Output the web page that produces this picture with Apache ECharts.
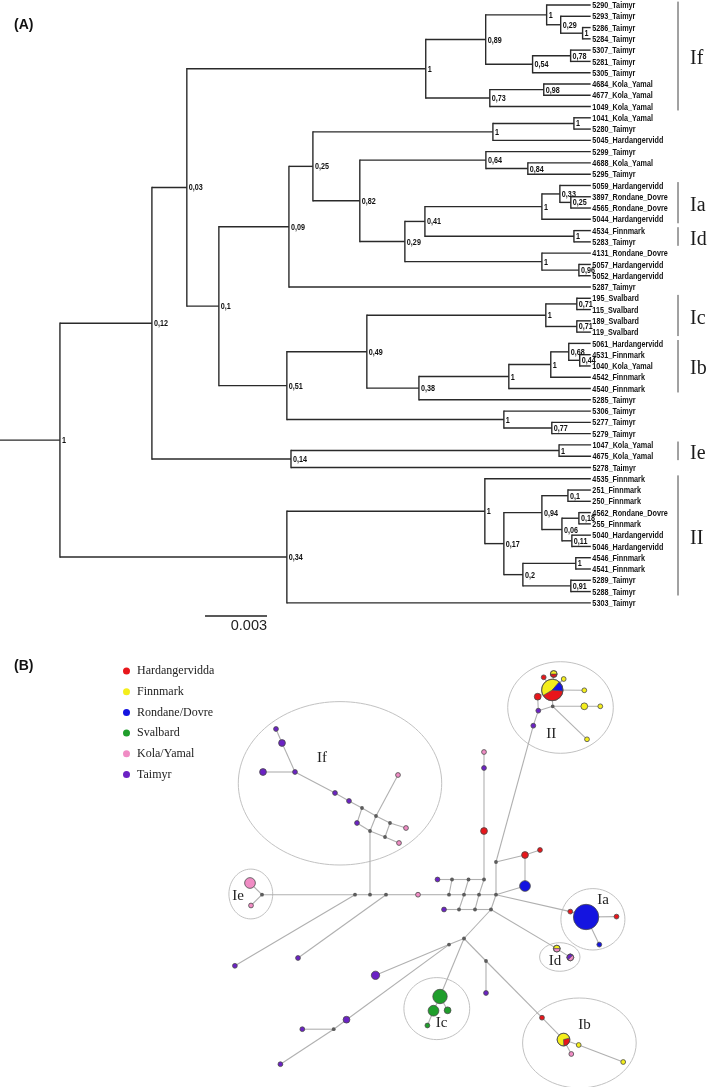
<!DOCTYPE html>
<html><head><meta charset="utf-8">
<script src="https://cdn.jsdelivr.net/npm/echarts@6/dist/echarts.min.js"></script>
<style>html,body{margin:0;padding:0;background:#fff}#c{width:709px;height:1087px}</style>
</head><body><div id="c"></div>
<script>
// ===== (A) Bayesian tree: [support or tip label, branch length (x1e-3 subst./site), children]
const cladeIf = ['1', 11.56, [
  ['0,89', 2.90, [
    ['1', 2.95, [
      ['5290_Taimyr', 2.13],
      ['0,29', 0.68, [
        ['5293_Taimyr', 1.45],
        ['1', 1.06, [['5286_Taimyr', 0.39], ['5284_Taimyr', 0.39]]]
      ]]
    ]],
    ['0,54', 2.27, [
      ['0,78', 1.84, [['5307_Taimyr', 0.97], ['5281_Taimyr', 0.97]]],
      ['5305_Taimyr', 2.81]
    ]]
  ]],
  ['0,73', 3.10, [
    ['0,98', 2.61, [['4684_Kola_Yamal', 2.27], ['4677_Kola_Yamal', 2.27]]],
    ['1049_Kola_Yamal', 4.89]
  ]]
]];
const clade01 = ['0,1', 1.55, [
  ['0,09', 3.39, [
    ['0,25', 1.16, [
      ['1', 8.71, [
        ['1', 3.92, [['1041_Kola_Yamal', 0.82], ['5280_Taimyr', 0.82]]],
        ['5045_Hardangervidd', 4.74]
      ]],
      ['0,82', 2.27, [
        ['0,64', 6.10, [
          ['5299_Taimyr', 5.08],
          ['0,84', 2.03, [['4688_Kola_Yamal', 3.05], ['5295_Taimyr', 3.05]]]
        ]],
        ['0,29', 2.18, [
          ['0,41', 0.97, [
            ['1', 5.66, [
              ['0,33', 0.87, [
                ['5059_Hardangervidd', 1.50],
                ['0,25', 0.53, [['3897_Rondane_Dovre', 0.97], ['4565_Rondane_Dovre', 0.97]]]
              ]],
              ['5044_Hardangervidd', 2.37]
            ]],
            ['1', 7.21, [['4534_Finnmark', 0.82], ['5283_Taimyr', 0.82]]]
          ]],
          ['1', 6.63, [
            ['4131_Rondane_Dovre', 2.37],
            ['0,96', 1.79, [['5057_Hardangervidd', 0.58], ['5052_Hardangervidd', 0.58]]]
          ]]
        ]]
      ]]
    ]],
    ['5287_Taimyr', 14.61]
  ]],
  ['0,51', 3.29, [
    ['0,49', 3.87, [
      ['1', 8.66, [
        ['0,71', 1.50, [['195_Svalbard', 0.68], ['115_Svalbard', 0.68]]],
        ['0,71', 1.50, [['189_Svalbard', 0.68], ['119_Svalbard', 0.68]]]
      ]],
      ['0,38', 2.52, [
        ['1', 4.35, [
          ['1', 2.03, [
            ['0,68', 0.87, [
              ['5061_Hardangervidd', 1.06],
              ['0,44', 0.53, [['4531_Finnmark', 0.53], ['1040_Kola_Yamal', 0.53]]]
            ]],
            ['4542_Finnmark', 1.94]
          ]],
          ['4540_Finnmark', 3.97]
        ]],
        ['5285_Taimyr', 8.32]
      ]]
    ]],
    ['1', 10.50, [
      ['5306_Taimyr', 4.21],
      ['0,77', 2.32, [['5277_Taimyr', 1.89], ['5279_Taimyr', 1.89]]]
    ]]
  ]]
]];
const cladeIe = ['0,14', 6.73, [
  ['1', 12.97, [['1047_Kola_Yamal', 1.55], ['4675_Kola_Yamal', 1.55]]],
  ['5278_Taimyr', 14.52]
]];
const cladeII = ['0,34', 10.98, [
  ['1', 9.58, [
    ['4535_Finnmark', 5.13],
    ['0,17', 0.92, [
      ['0,94', 1.84, [
        ['0,1', 1.26, [['251_Finnmark', 1.11], ['250_Finnmark', 1.11]]],
        ['0,06', 0.97, [
          ['0,18', 0.82, [['4562_Rondane_Dovre', 0.58], ['255_Finnmark', 0.58]]],
          ['0,11', 0.48, [['5040_Hardangervidd', 0.92], ['5046_Hardangervidd', 0.92]]]
        ]]
      ]],
      ['0,2', 0.92, [
        ['1', 2.56, [['4546_Finnmark', 0.73], ['4541_Finnmark', 0.73]]],
        ['0,91', 2.32, [['5289_Taimyr', 0.97], ['5288_Taimyr', 0.97]]]
      ]]
    ]]
  ]],
  ['5303_Taimyr', 14.71]
]];
const treeRoot = ['1', 2.90, [['0,12', 4.45, [['0,03', 1.69, [cladeIf, clade01]], cladeIe]], cladeII]];
const branchUnit = 1e-3;
const scaleBarValue = 0.003;
const cladeNames = ['If', 'Ia', 'Id', 'Ic', 'Ib', 'Ie', 'II'];
const cladeFirstTip = ['5290_Taimyr', '5059_Hardangervidd', '4534_Finnmark', '195_Svalbard', '5061_Hardangervidd', '1047_Kola_Yamal', '4535_Finnmark'];
const cladeLastTip = ['1049_Kola_Yamal', '5044_Hardangervidd', '5283_Taimyr', '119_Svalbard', '4540_Finnmark', '4675_Kola_Yamal', '5288_Taimyr'];

// ===== (B) haplotype network
const regions = ['Hardangervidda', 'Finnmark', 'Rondane/Dovre', 'Svalbard', 'Kola/Yamal', 'Taimyr'];
const regionColors = ['#e8161b', '#f4ee1c', '#1414e0', '#1f9e2b', '#f08cc4', '#6b22c4'];
const nodeX = [276,282,263,295,335,349,362,376,390,406,357,370,385,399,398,
  250,251,262,355,370,386,418,449,464,479,496,
  437.5,452,468.5,484, 444,459,475,491,
  484,484,484,496,525,540,525,
  570.3,586.1,616.5,599.3, 556.8,570.3,
  464,449,375.5,346.5,333.7,302.3,280.4,
  440,433.5,447.6,427.4,
  486,486,542,563.5,578.7,571.3,623.2,
  234.9,298,
  552.3,537.7,543.7,553.7,563.7,584.3,552.7,584.3,600.3,587,538.3,533.3];
const nodeY = [729,743,772,772,793,801,808,816,823,828,823,831,837,843,775,
  883,905.5,894.7,894.7,894.7,894.7,894.7,894.7,894.7,894.7,894.7,
  879.5,879.5,879.5,879.5, 909.5,909.5,909.5,909.5,
  752,768,831,862,855,850,886,
  911.6,917,916.6,944.6, 948.6,957.4,
  938.5,944.6,975.3,1019.7,1029.2,1029.2,1064.2,
  996.5,1010.7,1010.3,1025.5,
  961,993,1017.7,1039.6,1045,1054,1062,
  965.8,958,
  690,696.7,677.3,674,679,690.3,706.3,706.3,706.3,739.3,710.7,725.7];
// sample counts per node: [Hardangervidda, Finnmark, Rondane/Dovre, Svalbard, Kola/Yamal, Taimyr]; all zero = median vector
const nodeCounts = [
  [0,0,0,0,0,1],[0,0,0,0,0,2],[0,0,0,0,0,2],[0,0,0,0,0,1],[0,0,0,0,0,1],[0,0,0,0,0,1],
  [0,0,0,0,0,0],[0,0,0,0,0,0],[0,0,0,0,0,0],[0,0,0,0,1,0],[0,0,0,0,0,1],[0,0,0,0,0,0],
  [0,0,0,0,0,0],[0,0,0,0,1,0],[0,0,0,0,1,0],
  [0,0,0,0,5,0],[0,0,0,0,1,0],[0,0,0,0,0,0],[0,0,0,0,0,0],[0,0,0,0,0,0],[0,0,0,0,0,0],
  [0,0,0,0,1,0],[0,0,0,0,0,0],[0,0,0,0,0,0],[0,0,0,0,0,0],[0,0,0,0,0,0],
  [0,0,0,0,0,1],[0,0,0,0,0,0],[0,0,0,0,0,0],[0,0,0,0,0,0],
  [0,0,0,0,0,1],[0,0,0,0,0,0],[0,0,0,0,0,0],[0,0,0,0,0,0],
  [0,0,0,0,1,0],[0,0,0,0,0,1],[2,0,0,0,0,0],[0,0,0,0,0,0],[2,0,0,0,0,0],[1,0,0,0,0,0],[0,0,5,0,0,0],
  [1,0,0,0,0,0],[0,0,28,0,0,0],[1,0,0,0,0,0],[0,0,1,0,0,0],
  [0,1,0,0,1,0],[0,0,0,0,1,1],
  [0,0,0,0,0,0],[0,0,0,0,0,0],[0,0,0,0,0,3],[0,0,0,0,0,2],[0,0,0,0,0,0],[0,0,0,0,0,1],[0,0,0,0,0,1],
  [0,0,0,9,0,0],[0,0,0,5,0,0],[0,0,0,2,0,0],[0,0,0,1,0,0],
  [0,0,0,0,0,0],[0,0,0,0,0,1],[1,0,0,0,0,0],[2,5,0,0,0,0],[0,1,0,0,0,0],[0,0,0,0,1,0],[0,1,0,0,0,0],
  [0,0,0,0,0,1],[0,0,0,0,0,1],
  [8,9,3,0,0,0],[2,0,0,0,0,0],[1,0,0,0,0,0],[1,1,0,0,0,0],[0,1,0,0,0,0],[0,1,0,0,0,0],
  [0,0,0,0,0,0],[0,2,0,0,0,0],[0,1,0,0,0,0],[0,1,0,0,0,0],[0,0,0,0,0,1],[0,0,0,0,0,1]
];
const edges = [
  [0,1],[1,3],[2,3],[3,4],[4,5],[5,6],[6,7],[7,8],[8,9],[6,10],[10,11],[11,12],[12,13],[14,7],[7,11],[8,12],[11,19],
  [17,15],[17,16],[17,18],[18,19],[19,20],[20,21],[21,22],[22,23],[23,24],[24,25],[18,65],[20,66],
  [26,27],[27,28],[28,29],[27,22],[28,23],[29,24],
  [30,31],[31,32],[32,33],[23,31],[24,32],[25,33],
  [34,35],[35,36],[36,29],
  [78,37],[37,25],[37,38],[38,39],[38,40],[40,25],
  [25,41],[41,42],[42,43],[42,44],
  [33,45],[45,46],
  [33,47],[47,48],[48,49],[48,50],[50,51],[51,52],[51,53],
  [47,54],[54,55],[54,56],[55,57],
  [47,58],[58,59],[58,60],[60,61],[61,62],[62,64],[61,63],
  [67,69],[67,70],[67,71],[67,72],[67,68],[68,77],[77,73],[73,67],[73,74],[74,75],[73,76],[77,78]
];
const groupLabels = ['If', 'II', 'Ie', 'Ia', 'Id', 'Ic', 'Ib'];
const groupCx = [340, 560.5, 250.8, 592.9, 559.8, 436.8, 579.4];
const groupCy = [783.3, 707.5, 894, 919.3, 957, 1008.6, 1043];
const groupRx = [101.7, 52.8, 21.9, 32, 20.2, 32.9, 56.8];
const groupRy = [81.7, 45.8, 24.9, 30.7, 14.3, 31, 45];
const groupLabelX = [322, 551.3, 238, 603, 555, 441.5, 584.4];
const groupLabelY = [758, 734, 895.7, 900, 961.4, 1022.8, 1024.8];

// ===== tree layout (x = cumulative branch length, y = tip order)
const treeItems = [];
const tipIndex = {};
let tipCounter = 0;
function layout(node, xParent) {
  const label = node[0], len = node[1], kids = node[2];
  const x = xParent + len;
  if (!kids) {
    const y = tipCounter++;
    tipIndex[label] = y;
    treeItems.push({ value: [xParent, x, y, y, y], label: label, tip: true });
    return y;
  }
  const ys = kids.map(k => layout(k, x));
  const y = (ys[0] + ys[ys.length - 1]) / 2;
  treeItems.push({ value: [xParent, x, y, ys[0], ys[ys.length - 1]], label: label, tip: false });
  return y;
}
layout(treeRoot, 0);

const LINE = '#2a2a2a';
const NARROW = '"Liberation Sans", Arial, sans-serif';
const SERIF = '"Liberation Serif", "Times New Roman", serif';
const PX_PER_UNIT = 20.667;

const chart = echarts.init(document.getElementById('c'), null, { renderer: 'canvas' });

const option = {
  animation: false,
  backgroundColor: '#fff',
  title: [
    { text: '(A)', left: 14, top: 18, padding: 0, textStyle: { fontFamily: NARROW, fontSize: 14, fontWeight: 'bold', color: '#111' } },
    { text: '(B)', left: 14, top: 659, padding: 0, textStyle: { fontFamily: NARROW, fontSize: 14, fontWeight: 'bold', color: '#111' } }
  ],
  legend: {
    orient: 'vertical', left: 118, top: 659, icon: 'circle', itemWidth: 7, itemHeight: 7, itemGap: 6.7,
    data: regions, selectedMode: false,
    textStyle: { fontFamily: SERIF, fontSize: 12, color: '#222', lineHeight: 14, padding: [0, 0, 0, 2] }
  },
  grid: [
    { left: 0, width: 709, top: 5, height: 597.84 },
    { left: 0, width: 709, top: 640, height: 447 }
  ],
  xAxis: [
    { type: 'value', gridIndex: 0, min: 0, max: 709 / PX_PER_UNIT, show: false },
    { type: 'value', gridIndex: 1, min: 0, max: 709, show: false }
  ],
  yAxis: [
    { type: 'value', gridIndex: 0, min: 0, max: 53, inverse: true, show: false },
    { type: 'value', gridIndex: 1, min: 640, max: 1087, inverse: true, show: false }
  ],
  series: [
    // tree branches and labels
    {
      type: 'custom', xAxisIndex: 0, yAxisIndex: 0, silent: true,
      data: treeItems.map(d => d.value),
      renderItem: function (params, api) {
        const it = treeItems[params.dataIndex];
        const p0 = api.coord([api.value(0), api.value(2)]);
        const p1 = api.coord([api.value(1), api.value(2)]);
        const ch = [{ type: 'line', shape: { x1: p0[0], y1: p0[1], x2: p1[0], y2: p1[1] }, style: { stroke: LINE, lineWidth: 1.4 } }];
        if (!it.tip) {
          const a = api.coord([api.value(1), api.value(3)]);
          const b = api.coord([api.value(1), api.value(4)]);
          ch.push({ type: 'line', shape: { x1: a[0], y1: a[1] - 0.7, x2: b[0], y2: b[1] + 0.7 }, style: { stroke: LINE, lineWidth: 1.4 } });
          ch.push({ type: 'text', x: p1[0] + 2, y: p1[1] + 0.5, scaleX: 0.8,
            style: { text: it.label, font: 'bold 9px ' + NARROW, fill: '#111', verticalAlign: 'middle', align: 'left' } });
        } else {
          ch.push({ type: 'text', x: p1[0] + 1.5, y: p1[1] + 0.5, scaleX: 0.76,
            style: { text: it.label, font: 'bold 9.5px ' + NARROW, fill: '#111', verticalAlign: 'middle', align: 'left' } });
        }
        return { type: 'group', children: ch };
      }
    },
    // clade brackets
    {
      type: 'custom', xAxisIndex: 0, yAxisIndex: 0, silent: true,
      data: cladeNames.map((n, i) => [tipIndex[cladeFirstTip[i]] - 0.3, tipIndex[cladeLastTip[i]] + 0.35]),
      renderItem: function (params, api) {
        const x = 678;
        const a = api.coord([0, api.value(0)]);
        const b = api.coord([0, api.value(1)]);
        const top = Math.max(a[1], 0);
        return { type: 'group', children: [
          { type: 'line', shape: { x1: x, y1: top, x2: x, y2: b[1] }, style: { stroke: '#444', lineWidth: 1 } },
          { type: 'text', x: 690, y: (top + b[1]) / 2 + 3,
            style: { text: cladeNames[params.dataIndex], font: '20px ' + SERIF, fill: '#1a1a1a', verticalAlign: 'middle', align: 'left' } }
        ] };
      }
    },
    // scale bar
    {
      type: 'custom', xAxisIndex: 0, yAxisIndex: 0, silent: true,
      data: [[9.92, 9.92 + scaleBarValue / branchUnit, 54.17]],
      renderItem: function (params, api) {
        const a = api.coord([api.value(0), api.value(2)]);
        const b = api.coord([api.value(1), api.value(2)]);
        return { type: 'group', children: [
          { type: 'line', shape: { x1: a[0], y1: a[1], x2: b[0], y2: b[1] }, style: { stroke: '#222', lineWidth: 1.4 } },
          { type: 'text', x: b[0], y: b[1] + 2, style: { text: String(scaleBarValue), font: '14.5px "Liberation Sans", Arial, sans-serif', fill: '#222', align: 'right', verticalAlign: 'top' } }
        ] };
      }
    },
    // network cluster ellipses
    {
      type: 'custom', xAxisIndex: 1, yAxisIndex: 1, silent: true, z: 1,
      data: groupLabels.map((n, i) => [groupCx[i], groupCy[i], groupRx[i], groupRy[i]]),
      renderItem: function (params, api) {
        const c = api.coord([api.value(0), api.value(1)]);
        const s = api.size([api.value(2), api.value(3)]);
        return { type: 'ellipse', shape: { cx: c[0], cy: c[1], rx: s[0], ry: s[1] }, style: { fill: null, stroke: '#c2c2c2', lineWidth: 1 } };
      }
    },
    // network edges
    {
      type: 'custom', xAxisIndex: 1, yAxisIndex: 1, silent: true, z: 2,
      data: edges.map(e => [nodeX[e[0]], nodeY[e[0]], nodeX[e[1]], nodeY[e[1]]]),
      renderItem: function (params, api) {
        const a = api.coord([api.value(0), api.value(1)]);
        const b = api.coord([api.value(2), api.value(3)]);
        return { type: 'line', shape: { x1: a[0], y1: a[1], x2: b[0], y2: b[1] }, style: { stroke: '#b0b0b0', lineWidth: 1.1 } };
      }
    },
    // network nodes (pies by region)
    {
      type: 'custom', xAxisIndex: 1, yAxisIndex: 1, silent: true, z: 3,
      data: nodeX.map((x, i) => [x, nodeY[i]]),
      renderItem: function (params, api) {
        const i = params.dataIndex;
        const c = api.coord([api.value(0), api.value(1)]);
        const cnt = nodeCounts[i];
        const total = cnt.reduce((s, v) => s + v, 0);
        if (total === 0) {
          return { type: 'circle', shape: { cx: c[0], cy: c[1], r: 1.9 }, style: { fill: '#5c5c5c' } };
        }
        const r = 2.4 * Math.sqrt(total);
        const used = cnt.map((v, k) => k).filter(k => cnt[k] > 0);
        if (used.length === 1) {
          return { type: 'circle', shape: { cx: c[0], cy: c[1], r: r }, style: { fill: regionColors[used[0]], stroke: '#4a4a4a', lineWidth: 0.8 } };
        }
        const rot = { 67: 5, 61: -15, 45: 180, 46: 315, 70: 0 };
        let ang = (rot[i] || 0) * Math.PI / 180;
        const ch = [];
        used.forEach(k => {
          const span = cnt[k] / total * Math.PI * 2;
          ch.push({ type: 'sector', shape: { cx: c[0], cy: c[1], r: r, r0: 0, startAngle: ang, endAngle: ang + span, clockwise: true },
            style: { fill: regionColors[k], stroke: '#4a4a4a', lineWidth: 0.6 } });
          ang += span;
        });
        ch.push({ type: 'circle', shape: { cx: c[0], cy: c[1], r: r }, style: { fill: null, stroke: '#4a4a4a', lineWidth: 0.8 } });
        return { type: 'group', children: ch };
      }
    },
    // cluster labels
    {
      type: 'custom', xAxisIndex: 1, yAxisIndex: 1, silent: true, z: 4,
      data: groupLabels.map((n, i) => [groupLabelX[i], groupLabelY[i]]),
      renderItem: function (params, api) {
        const c = api.coord([api.value(0), api.value(1)]);
        return { type: 'text', x: c[0], y: c[1], style: { text: groupLabels[params.dataIndex], font: '15px ' + SERIF, fill: '#222', align: 'center', verticalAlign: 'middle' } };
      }
    }
  ].concat(regions.map((name, k) => ({
    type: 'scatter', name: name, xAxisIndex: 1, yAxisIndex: 1, data: [], itemStyle: { color: regionColors[k], opacity: 1 }
  })))
};
chart.setOption(option);
</script>
</body></html>
